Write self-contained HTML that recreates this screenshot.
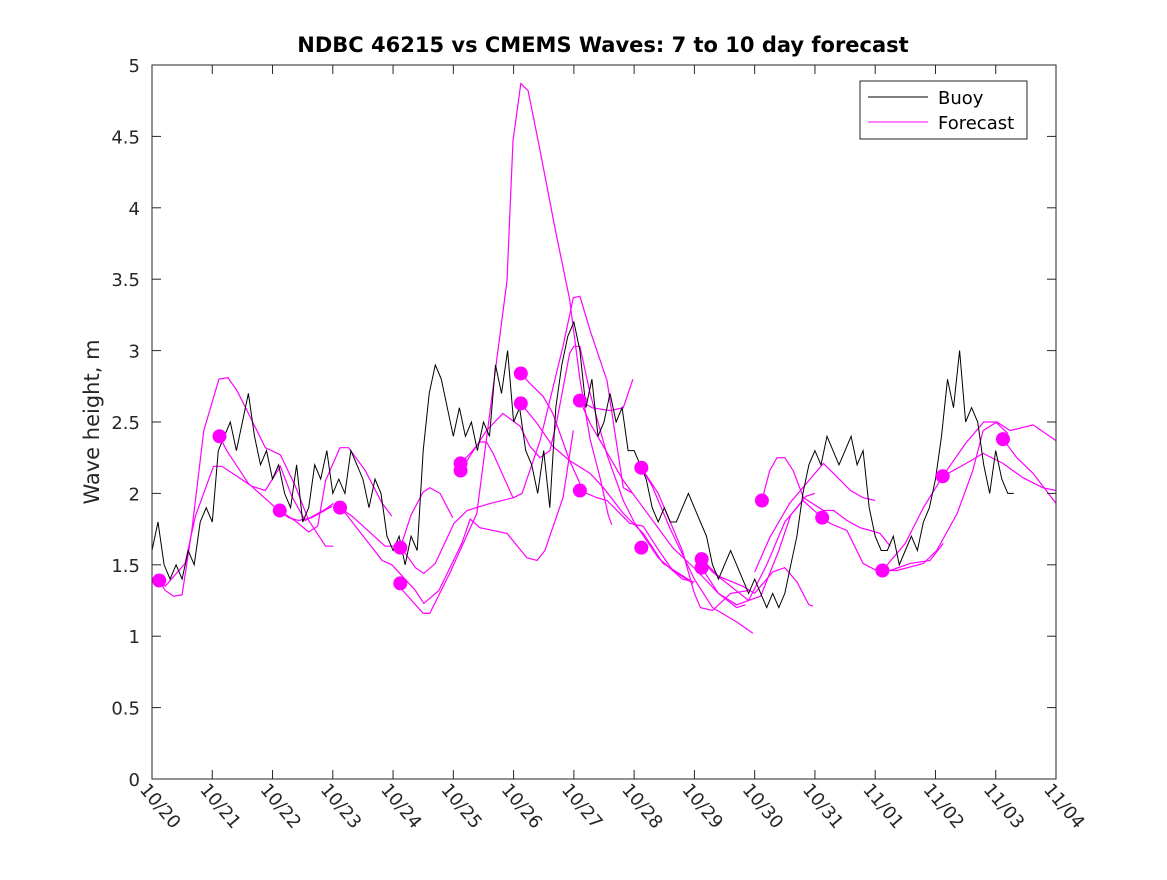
<!DOCTYPE html>
<html><head><meta charset="utf-8"><style>
body{margin:0;background:#fff}
svg text{font-family:"DejaVu Sans","Liberation Sans",sans-serif;fill:#262626}
</style></head><body>
<svg id="chart" width="1167" height="875" xmlns="http://www.w3.org/2000/svg">
<rect width="1167" height="875" fill="#fff"/>
<text x="603" y="52" text-anchor="middle" font-size="21" font-weight="bold" style="fill:#000">NDBC 46215 vs CMEMS Waves: 7 to 10 day forecast</text>
<text transform="translate(99,422) rotate(-90)" text-anchor="middle" font-size="21">Wave height, m</text>
<g id="grid"></g>
<g id="forecasts"></g>
<g id="buoy"></g>
<g id="dots"></g>
<rect x="152" y="65" width="904" height="714" fill="none" stroke="#262626" stroke-width="1"/>
<g id="axes"></g>
<g>
<rect x="860" y="81" width="167" height="58" fill="#fff" stroke="#262626"/>
<line x1="868" y1="97" x2="928" y2="97" stroke="#000"/>
<text x="938" y="104" font-size="18" style="fill:#000">Buoy</text>
<line x1="868" y1="122" x2="928" y2="122" stroke="#f0f"/>
<text x="938" y="129" font-size="18" style="fill:#000">Forecast</text>
</g>
</svg>
<script>
const xTickLabels=["10/20","10/21","10/22","10/23","10/24","10/25","10/26","10/27","10/28","10/29","10/30","10/31","11/01","11/02","11/03","11/04"];
const yTicks=[0,0.5,1,1.5,2,2.5,3,3.5,4,4.5,5];
const buoyStart=0, buoyStep=0.1;
const buoyValues=[1.6,1.8,1.5,1.4,1.5,1.4,1.6,1.5,1.8,1.9,
1.8,2.3,2.4,2.5,2.3,2.5,2.7,2.4,2.2,2.3,
2.1,2.2,2.0,1.9,2.2,1.8,1.9,2.2,2.1,2.3,
2.0,2.1,2.0,2.3,2.2,2.1,1.9,2.1,2.0,1.7,
1.6,1.7,1.5,1.7,1.6,2.3,2.7,2.9,2.8,2.6,
2.4,2.6,2.4,2.5,2.3,2.5,2.4,2.9,2.7,3.0,
2.5,2.6,2.3,2.2,2.0,2.3,1.9,2.6,2.9,3.1,
3.2,3.0,2.6,2.8,2.4,2.5,2.7,2.5,2.6,2.3,
2.3,2.2,2.1,1.9,1.8,1.9,1.8,1.8,1.9,2.0,
1.9,1.8,1.7,1.5,1.4,1.5,1.6,1.5,1.4,1.3,
1.4,1.3,1.2,1.3,1.2,1.3,1.5,1.7,2.0,2.2,
2.3,2.2,2.4,2.3,2.2,2.3,2.4,2.2,2.3,1.9,
1.7,1.6,1.6,1.7,1.5,1.6,1.7,1.6,1.8,1.9,
2.1,2.4,2.8,2.6,3.0,2.5,2.6,2.5,2.2,2.0,
2.3,2.1,2.0,2.0];
const dotDays=[0.12,1.12,2.12,3.12,4.12,4.12,5.12,5.12,6.12,6.12,7.1,7.1,8.12,8.12,9.12,9.12,10.12,11.12,12.12,13.12,14.12];
const dotValues=[1.39,2.40,1.88,1.90,1.62,1.37,2.21,2.16,2.84,2.63,2.65,2.02,2.18,1.62,1.54,1.48,1.95,1.83,1.46,2.12,2.38];
const forecastLines=[
[[0.12,1.39],[0.22,1.32],[0.36,1.28],[0.5,1.29],[0.66,1.74],[0.86,2.44],[1.11,2.8],[1.26,2.81],[1.41,2.72],[1.6,2.56],[1.88,2.32],[2.13,2.27],[2.38,2.05],[2.6,1.81],[2.88,1.63],[3.01,1.63]],
[[0.12,1.39],[0.22,1.35],[0.55,1.51],[0.72,1.84],[1.02,2.19],[1.16,2.19],[1.66,2.05],[1.88,2.02],[2.13,2.19],[2.32,1.98],[2.54,1.81],[2.88,1.89],[3.01,1.93]],
[[1.12,2.40],[1.24,2.30],[1.6,2.07],[2.1,1.88],[2.27,1.83],[2.43,1.81],[2.65,1.83],[2.99,1.91]],
[[2.12,1.88],[2.4,1.8],[2.6,1.73],[2.75,1.77],[2.88,2.09],[3.12,2.32],[3.26,2.32],[3.54,2.16],[3.82,1.93],[3.98,1.84]],
[[3.12,1.90],[3.32,1.84],[3.87,1.63],[4.12,1.63],[4.37,1.48],[4.51,1.44],[4.7,1.51],[5.01,1.79],[5.23,1.88],[5.61,1.93],[6.0,1.97],[6.14,2.0],[6.44,2.37],[6.82,3.03],[6.99,3.37],[7.1,3.38],[7.27,3.14],[7.55,2.79],[7.82,2.04],[7.98,2.0]],
[[3.12,1.90],[3.21,1.86],[3.82,1.53],[3.98,1.5],[4.37,1.32],[4.51,1.23],[4.76,1.32],[5.14,1.65],[5.28,1.82],[5.44,1.76],[5.89,1.72],[6.22,1.55],[6.39,1.53],[6.52,1.6],[6.82,1.97],[6.99,2.44]],
[[4.12,1.37],[4.16,1.32],[4.5,1.16],[4.61,1.16],[4.94,1.44],[5.39,1.86],[5.89,3.49],[5.99,4.47],[6.12,4.87],[6.24,4.82],[6.44,4.4],[6.69,3.85],[6.93,3.36],[7.1,2.8],[7.27,2.38],[7.44,2.1],[7.57,1.85],[7.63,1.78]],
[[4.12,1.62],[4.3,1.85],[4.5,2.01],[4.61,2.04],[4.78,2.0],[4.99,1.83]],
[[5.12,2.21],[5.28,2.28],[5.44,2.36],[5.55,2.36],[5.66,2.28],[5.99,1.97]],
[[5.12,2.16],[5.55,2.44],[5.82,2.56],[6.11,2.47],[6.27,2.33],[6.44,2.25],[6.6,2.3],[6.71,2.49],[6.93,2.98],[7.0,3.03],[7.1,3.03],[7.27,2.7],[7.55,2.27],[7.82,1.95],[8.0,1.8],[8.4,1.55],[8.8,1.4],[9.0,1.38]],
[[6.12,2.84],[6.27,2.77],[6.49,2.68],[6.65,2.56],[6.93,2.23],[7.1,2.07]],
[[6.12,2.63],[6.39,2.49],[6.65,2.33],[6.93,2.23],[7.27,2.14],[7.49,2.04],[7.82,1.86],[8.15,1.72],[8.48,1.51],[8.93,1.39]],
[[7.1,2.65],[7.27,2.49],[7.49,2.33],[7.82,2.09],[8.15,1.9],[8.64,1.62],[9.04,1.46],[9.4,1.3],[9.7,1.2],[9.85,1.22]],
[[7.1,2.65],[7.3,2.6],[7.6,2.58],[7.82,2.6],[7.98,2.8]],
[[7.1,2.02],[7.38,1.97],[7.55,1.95],[7.93,1.79],[8.15,1.77],[8.38,1.62],[8.64,1.46],[8.98,1.37]],
[[8.12,2.18],[8.3,2.05],[8.6,1.75],[9.0,1.4],[9.3,1.2],[9.7,1.1],[9.97,1.02]],
[[8.12,2.18],[8.4,2.0],[8.8,1.6],[9.0,1.3],[9.1,1.2],[9.3,1.18],[9.6,1.3],[9.9,1.32]],
[[9.12,1.54],[9.3,1.45],[9.6,1.35],[9.9,1.25],[10.1,1.28],[10.4,1.6],[10.6,1.85],[10.85,1.98],[11.0,2.0]],
[[9.12,1.48],[9.4,1.3],[9.7,1.22],[9.9,1.25],[10.2,1.5],[10.5,1.8],[10.8,1.95],[11.12,1.83],[11.25,1.79],[11.53,1.74],[11.8,1.51],[12.02,1.46],[12.25,1.46],[12.58,1.51],[12.91,1.53],[13.13,1.65]],
[[9.12,1.54],[9.4,1.42],[9.8,1.35],[10.0,1.3],[10.3,1.45],[10.5,1.48],[10.7,1.38],[10.9,1.22],[10.97,1.21]],
[[10.12,1.95],[10.25,2.16],[10.37,2.25],[10.5,2.25],[10.64,2.16],[10.81,1.97],[11.14,1.88],[11.31,1.88],[11.53,1.81],[11.75,1.76],[11.92,1.74],[12.08,1.72],[12.25,1.63]],
[[10.0,1.45],[10.25,1.69],[10.58,1.93],[11.14,2.21],[11.31,2.14],[11.59,2.02],[11.8,1.97],[12.0,1.95]],
[[12.12,1.46],[12.36,1.46],[12.8,1.51],[13.02,1.6],[13.36,1.86],[13.62,2.16],[13.79,2.44],[14.02,2.5],[14.24,2.44],[14.62,2.48],[15.0,2.37]],
[[12.12,1.46],[12.5,1.65],[12.8,1.9],[13.12,2.12],[13.51,2.21],[13.79,2.28],[14.12,2.21],[14.45,2.11],[14.78,2.04],[15.0,2.02]],
[[13.12,2.12],[13.5,2.35],[13.8,2.5],[14.0,2.5],[14.2,2.42]],
[[14.12,2.38],[14.35,2.25],[14.62,2.14],[15.0,1.93]]
];
const X=d=>152+d*(904/15);
const Y=v=>779-v*(714/5);
const NS="http://www.w3.org/2000/svg";
function mk(tag,parent,attrs){const e=document.createElementNS(NS,tag);for(const k in attrs)e.setAttribute(k,attrs[k]);document.getElementById(parent).appendChild(e);return e;}
const axes="axes";
yTicks.forEach((v,i)=>{
  const y=Y(v);
  const t1=mk("line",axes,{x1:152,y1:y,x2:161,y2:y,stroke:"#262626"});
  
  
  const t2=mk("line",axes,{x1:1047,y1:y,x2:1056,y2:y,stroke:"#262626"});
  
  
  const tx=mk("text",axes,{x:140,y:y+7,"text-anchor":"end","font-size":"18"});
  tx.textContent=String(v);
  
  
});
xTickLabels.forEach((lab,i)=>{
  const x=X(i);
  const t1=mk("line",axes,{x1:x,y1:779,x2:x,y2:770,stroke:"#262626"});
  
  
  const t2=mk("line",axes,{x1:x,y1:65,x2:x,y2:74,stroke:"#262626"});
  
  
  const tx=mk("text",axes,{transform:`translate(${x-13},${790}) rotate(50)`,"font-size":"18"});
  tx.textContent=lab;
  
  
});
forecastLines.forEach(line=>{
  const p=mk("polyline","forecasts",{points:line.map(q=>X(q[0]).toFixed(1)+","+Y(q[1]).toFixed(1)).join(" "),fill:"none",stroke:"#f0f","stroke-width":"1.2"});
  
  
});
const bp=mk("polyline","buoy",{points:buoyValues.map((v,i)=>X(buoyStart+i*buoyStep).toFixed(1)+","+Y(v).toFixed(1)).join(" "),fill:"none",stroke:"#000","stroke-width":"1"});


dotDays.forEach((d,i)=>{
  const c=mk("circle","dots",{cx:X(d),cy:Y(dotValues[i]),r:7,fill:"#f0f"});
  
  
});
</script>
</body></html>
